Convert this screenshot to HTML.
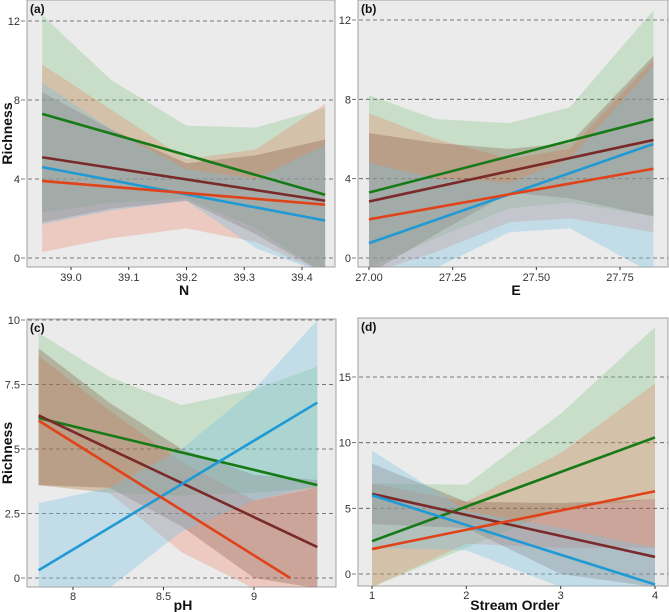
<!DOCTYPE html>
<html><head><meta charset="utf-8">
<style>
body{margin:0;background:#fff;}
svg{display:block;font-family:"Liberation Sans",Arial,sans-serif;}
</style></head>
<body>
<svg id="chart" width="669" height="612" viewBox="0 0 669 612" xmlns="http://www.w3.org/2000/svg"></svg>
<script>
// ---- Panel (a): N ----
const aX = [38.95, 39.07, 39.2, 39.32, 39.44];
const aGreenLine = [7.3, 3.2];
const aBrownLine = [5.1, 2.9];
const aBlueLine = [4.6, 1.9];
const aRedLine = [3.9, 2.7];
const aGreenUp = [12.3, 9.0, 6.7, 6.6, 7.6];
const aGreenLo = [2.3, 2.8, 3.0, 1.5, -0.8];
const aRedUp = [9.8, 7.5, 5.0, 5.5, 7.8];
const aRedLo = [0.3, 1.0, 1.5, 0.8, -0.8];
const aBrownUp = [8.4, 6.5, 4.8, 5.2, 6.0];
const aBrownLo = [1.8, 2.5, 2.9, 1.2, -0.8];
const aBlueUp = [8.9, 6.5, 4.5, 4.0, 5.7];
const aBlueLo = [1.7, 2.4, 2.9, 0.5, -0.8];
const aTicksX = [39.0, 39.1, 39.2, 39.3, 39.4];
const aTickLabelsX = ["39.0", "39.1", "39.2", "39.3", "39.4"];
const aTicksY = [0, 4, 8, 12];

// ---- Panel (b): E ----
const bX = [27.0, 27.2, 27.42, 27.6, 27.85];
const bGreenLine = [3.3, 7.0];
const bBrownLine = [2.85, 5.95];
const bBlueLine = [0.75, 5.75];
const bRedLine = [1.95, 4.5];
const bGreenUp = [8.2, 7.0, 6.8, 7.6, 12.5];
const bGreenLo = [-0.5, 1.0, 2.5, 2.8, 2.1];
const bRedUp = [7.3, 6.0, 5.0, 5.5, 10.0];
const bRedLo = [-0.8, 0.3, 1.8, 2.0, 1.3];
const bBrownUp = [6.3, 5.8, 5.5, 5.8, 10.2];
const bBrownLo = [-0.8, 1.2, 3.3, 3.0, 2.1];
const bBlueUp = [4.8, 4.0, 3.8, 5.0, 9.7];
const bBlueLo = [-0.8, -0.5, 1.3, 1.5, -0.8];
const bTicksX = [27.0, 27.25, 27.5, 27.75];
const bTickLabelsX = ["27.00", "27.25", "27.50", "27.75"];
const bTicksY = [0, 4, 8, 12];

// ---- Panel (c): pH ----
const cX = [7.81, 8.2, 8.6, 9.0, 9.35];
const cGreenLine = [6.2, 3.6];
const cBrownLine = [6.3, 1.2];
const cBlueLine = [0.3, 6.8];
const cRedLine = [6.1, 0];
const cRedLineX = [7.81, 9.2];
const cGreenUp = [9.5, 7.8, 6.7, 7.3, 8.2];
const cGreenLo = [3.6, 3.3, 3.2, 3.3, 3.5];
const cRedUp = [8.6, 6.5, 4.5, 3.0, 3.5];
const cRedLo = [3.6, 3.3, 1.0, -0.4, -0.4];
const cBrownUp = [8.9, 6.8, 5.0, 4.0, 3.8];
const cBrownLo = [3.6, 3.5, 2.0, 0.0, -0.4];
const cBlueUp = [2.9, 3.5, 5.0, 7.3, 10.0];
const cBlueLo = [-0.4, -0.4, 1.8, 3.0, 3.6];
const cTicksX = [8, 8.5, 9];
const cTickLabelsX = ["8", "8.5", "9"];
const cTicksY = [0, 2.5, 5, 7.5, 10];
const cTickLabelsY = ["0", "2.5", "5", "7.5", "10"];

// ---- Panel (d): Stream Order ----
const dX = [1, 2, 3, 4];
const dGreenLine = [2.5, 10.4];
const dBrownLine = [6.1, 1.3];
const dBlueLine = [6.0, -0.8];
const dRedLine = [1.9, 6.3];
const dGreenUp = [6.9, 6.8, 12.2, 18.8];
const dGreenLo = [-1.0, 2.0, 5.0, 5.7];
const dRedUp = [6.9, 5.5, 9.2, 14.5];
const dRedLo = [-1.0, 2.3, 2.0, 2.0];
const dBrownUp = [8.4, 5.5, 5.4, 5.7];
const dBrownLo = [3.8, 3.5, 0.0, -1.0];
const dBlueUp = [9.4, 4.8, 3.5, 2.0];
const dBlueLo = [2.0, 1.8, -1.0, -1.0];
const dTicksX = [1, 2, 3, 4];
const dTickLabelsX = ["1", "2", "3", "4"];
const dTicksY = [0, 5, 10, 15];

const NS = "http://www.w3.org/2000/svg";
const svg = document.getElementById("chart");
const COL = {green:"#167a16", brown:"#7a2a2a", blue:"#1f9ad4", red:"#e0421a"};
const FILL = {green:"rgba(110,190,110,0.28)", red:"rgba(240,120,90,0.28)", brown:"rgba(120,70,50,0.28)", blue:"rgba(120,195,225,0.35)"};

function mk(tag, attrs, parent){
  const e = document.createElementNS(NS, tag);
  for (const k in attrs) e.setAttribute(k, attrs[k]);
  (parent||svg).appendChild(e);
  return e;
}

function panel(p){
  const sx = v => p.x0 + (v - p.vx0) * (p.x1 - p.x0) / (p.vx1 - p.vx0);
  const sy = v => p.y0 + (v - p.vy0) * (p.y1 - p.y0) / (p.vy1 - p.vy0);
  const g = mk("g", {});
  
  
  const bg = mk("rect", {x:p.L, y:p.T, width:p.R-p.L, height:p.B-p.T, fill:"#ebebeb", stroke:"#a0a0a0", "stroke-width":1}, g);
  
  
  const cp = mk("clipPath", {id:"clip-"+p.id}, g);
  mk("rect", {x:p.L, y:p.T, width:p.R-p.L, height:p.B-p.T}, cp);
  p.ty.forEach((t, i) => {
    const y = sy(t);
    const gl = mk("line", {x1:p.L - 6, x2:p.R, y1:y, y2:y, stroke:"#555", "stroke-width":0.8, "stroke-dasharray":"4,3"}, g);
    
    
    const tl = mk("text", {x:p.L - 7, y:y + 4, "text-anchor":"end", "font-size":11, fill:"#333"}, g);
    tl.textContent = p.tyl ? p.tyl[i] : String(t);
    
    
  });
  p.tx.forEach((t, i) => {
    const x = sx(t);
    mk("line", {x1:x, x2:x, y1:p.B, y2:p.B + 3, stroke:"#333", "stroke-width":1}, g);
    const tl = mk("text", {x:x, y:p.B + p.tlo, "text-anchor":"middle", "font-size":11, fill:"#333"}, g);
    tl.textContent = p.txl[i];
    
    
  });
  const cg = mk("g", {"clip-path":"url(#clip-"+p.id+")"}, g);
  p.bands.forEach(b => {
    let d = "";
    p.xs.forEach((v, i) => { d += (i ? "L" : "M") + sx(v) + "," + sy(b.up[i]); });
    for (let i = p.xs.length - 1; i >= 0; i--) d += "L" + sx(p.xs[i]) + "," + sy(b.lo[i]);
    const pa = mk("path", {d:d + "Z", fill:FILL[b.c], stroke:"none"}, cg);
    
    
  });
  p.lines.forEach(l => {
    const xs = l.xs || [p.xs[0], p.xs[p.xs.length - 1]];
    const ln = mk("line", {x1:sx(xs[0]), y1:sy(l.v[0]), x2:sx(xs[1]), y2:sy(l.v[1]), stroke:COL[l.c], "stroke-width":2.6}, cg);
    
    
  });
  const lab = mk("text", {x:p.L + 3, y:p.T + 13, "font-size":12, "font-weight":"bold", fill:"#111"}, g);
  lab.textContent = "(" + p.id + ")";
  
  
  const xt = mk("text", {x:p.xlx, y:p.B + p.xto, "text-anchor":"middle", "font-size":14, "font-weight":"bold", fill:"#111"}, g);
  xt.textContent = p.xlab;
  
  
  if (p.ylab) {
    const cy = (p.T + p.B) / 2;
    const yt = mk("text", {x:12, y:cy, transform:"rotate(-90 12 " + cy + ")", "text-anchor":"middle", "font-size":14, "font-weight":"bold", fill:"#111"}, g);
    yt.textContent = "Richness";
    
    
  }
}

function bandsOf(gU,gL,rU,rL,brU,brL,blU,blL){
  return [{c:"green",up:gU,lo:gL},{c:"red",up:rU,lo:rL},{c:"brown",up:brU,lo:brL},{c:"blue",up:blU,lo:blL}];
}

panel({id:"a", L:27, R:335, T:0, B:267, x0:71, x1:302, vx0:39.0, vx1:39.4, y0:258, y1:21, vy0:0, vy1:12,
  tlo:14, xto:28,
  xs:aX, tx:aTicksX, txl:aTickLabelsX, ty:aTicksY, xlab:"N", xlx:184, ylab:true,
  bands:bandsOf(aGreenUp,aGreenLo,aRedUp,aRedLo,aBrownUp,aBrownLo,aBlueUp,aBlueLo),
  lines:[{c:"green",v:aGreenLine},{c:"brown",v:aBrownLine},{c:"blue",v:aBlueLine},{c:"red",v:aRedLine}]});

panel({id:"b", L:358, R:668, T:0, B:267, x0:369, x1:620, vx0:27.0, vx1:27.75, y0:258, y1:20, vy0:0, vy1:12,
  tlo:14, xto:28,
  xs:bX, tx:bTicksX, txl:bTickLabelsX, ty:bTicksY, xlab:"E", xlx:516, ylab:false,
  bands:bandsOf(bGreenUp,bGreenLo,bRedUp,bRedLo,bBrownUp,bBrownLo,bBlueUp,bBlueLo),
  lines:[{c:"green",v:bGreenLine},{c:"brown",v:bBrownLine},{c:"blue",v:bBlueLine},{c:"red",v:bRedLine}]});

panel({id:"c", L:27, R:336, T:319, B:587, x0:73, x1:254, vx0:8, vx1:9, y0:578, y1:320, vy0:0, vy1:10,
  tlo:13, xto:23,
  xs:cX, tx:cTicksX, txl:cTickLabelsX, ty:cTicksY, tyl:cTickLabelsY, xlab:"pH", xlx:183, ylab:true,
  bands:bandsOf(cGreenUp,cGreenLo,cRedUp,cRedLo,cBrownUp,cBrownLo,cBlueUp,cBlueLo),
  lines:[{c:"green",v:cGreenLine},{c:"brown",v:cBrownLine},{c:"blue",v:cBlueLine},{c:"red",v:cRedLine,xs:cRedLineX}]});

panel({id:"d", L:358, R:668, T:318, B:586, x0:372, x1:655, vx0:1, vx1:4, y0:574, y1:377, vy0:0, vy1:15,
  tlo:13, xto:24,
  xs:dX, tx:dTicksX, txl:dTickLabelsX, ty:dTicksY, xlab:"Stream Order", xlx:515, ylab:false,
  bands:bandsOf(dGreenUp,dGreenLo,dRedUp,dRedLo,dBrownUp,dBrownLo,dBlueUp,dBlueLo),
  lines:[{c:"green",v:dGreenLine},{c:"brown",v:dBrownLine},{c:"blue",v:dBlueLine},{c:"red",v:dRedLine}]});
</script>
</body></html>
